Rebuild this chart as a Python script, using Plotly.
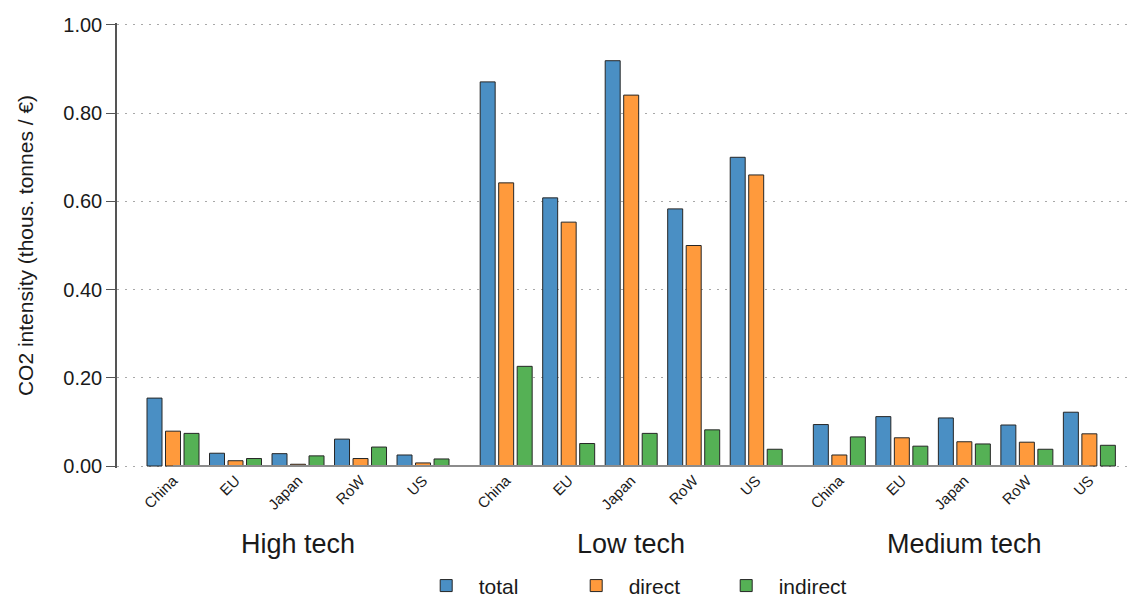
import plotly.graph_objects as go

groups = ["High tech", "Low tech", "Medium tech"]
countries = ["China", "EU", "Japan", "RoW", "US"]

# values per group, in country order
total = [0.154, 0.029, 0.028, 0.061, 0.025,
         0.871, 0.608, 0.919, 0.583, 0.700,
         0.094, 0.112, 0.109, 0.093, 0.122]
direct = [0.079, 0.012, 0.004, 0.017, 0.007,
          0.642, 0.553, 0.841, 0.500, 0.660,
          0.025, 0.064, 0.055, 0.054, 0.073]
indirect = [0.074, 0.017, 0.023, 0.043, 0.016,
            0.226, 0.051, 0.074, 0.082, 0.038,
            0.066, 0.045, 0.050, 0.038, 0.047]

series_names = ["total", "direct", "indirect"]
series_values = [total, direct, indirect]
colors = ["#4A8FC4", "#FF9A3C", "#55B155"]
y_ticks = [0, 0.2, 0.4, 0.6, 0.8, 1.0]

GROUP_GAP = 0.33
n = len(countries)
xpos = [g * (n + GROUP_GAP) + i for g in range(len(groups)) for i in range(n)]
ticktext = [c for _ in groups for c in countries]
group_centers = [g * (n + GROUP_GAP) + (n - 1) / 2 for g in range(len(groups))]

FONT = "Liberation Sans, Arial, sans-serif"

fig = go.Figure()
for name, vals, col in zip(series_names, series_values, colors):
    fig.add_trace(go.Bar(
        x=xpos, y=vals, name=name,
        marker=dict(color=col, line=dict(color="#262626", width=1)),
    ))

fig.update_layout(
    barmode="group", bargap=0.112, bargroupgap=0.19,
    width=1134, height=599,
    margin=dict(l=117, r=4, t=23, b=131, autoexpand=False),
    paper_bgcolor="white", plot_bgcolor="white",
    font=dict(family=FONT, color="#1a1a1a"),
    showlegend=True,
    legend=dict(orientation="h", x=0.515, xanchor="center", y=-0.265, yanchor="middle",
                font=dict(size=21), itemwidth=55, entrywidth=80, traceorder="normal"),
)

fig.update_xaxes(
    range=[-0.896, 15.31], tickmode="array", tickvals=xpos, ticktext=ticktext,
    tickangle=-45, tickfont=dict(size=15), ticks="", showgrid=False,
    zeroline=False, showline=False, automargin=False,
)
fig.update_yaxes(
    range=[-0.0045, 1.0045], tickvals=y_ticks, tickformat=".2f",
    tickfont=dict(size=20), ticks="outside", ticklen=9, tickcolor="#555",
    showline=True, linecolor="#555", linewidth=1.5,
    showgrid=True, gridcolor="#a8a8a8", griddash="1.5px,6.5px", gridwidth=1,
    zeroline=False, automargin=False,
    title=dict(text="CO2 intensity (thous. tonnes / €)", font=dict(size=21), standoff=24),
)

# categorical axis line from first to last category (Stata style)
fig.add_shape(type="line", xref="x", yref="y", x0=xpos[0], x1=xpos[-1], y0=0, y1=0,
              line=dict(color="#8c8c8c", width=2), layer="above")

for gname, gc in zip(groups, group_centers):
    fig.add_annotation(x=gc, xref="x", y=-0.171, yref="paper", text=gname,
                       showarrow=False, font=dict(size=27, family=FONT, color="#1a1a1a"),
                       yanchor="middle")

fig.write_html("out.html", config={"displayModeBar": False},
               post_script="document.body.style.margin='0';")
